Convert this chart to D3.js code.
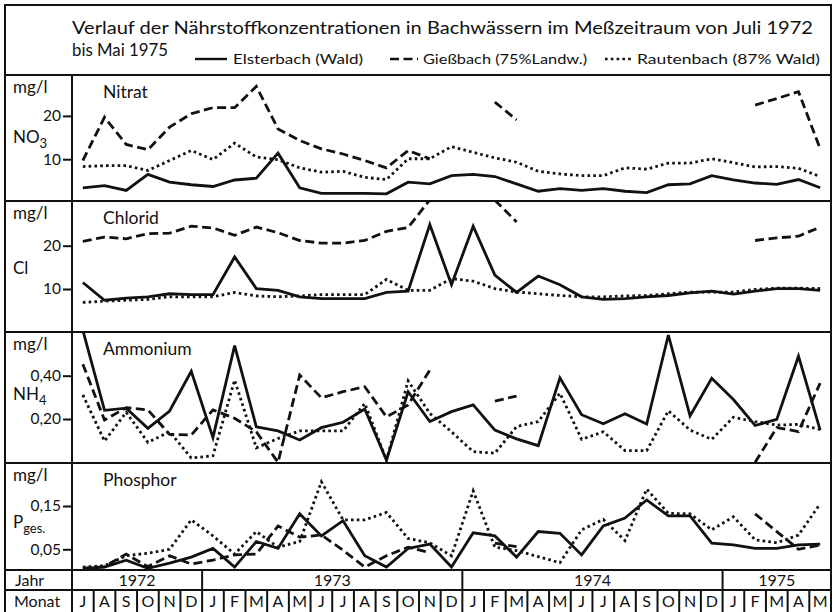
<!DOCTYPE html>
<html>
<head>
<meta charset="utf-8">
<script src="https://cdn.jsdelivr.net/npm/d3@7"></script>
<style>
  body { margin: 0; background: #fff; }
  svg text { font-family: Lato, "DejaVu Sans", sans-serif; fill: #111; }
</style>
</head>
<body>
<div id="chart"></div>
<script>
// months July 1972 .. May 1975
var monthLabels = ["J","A","S","O","N","D",
  "J","F","M","A","M","J","J","A","S","O","N","D",
  "J","F","M","A","M","J","J","A","S","O","N","D",
  "J","F","M","A","M"];
var yearLabels = ["1972", "1973", "1974", "1975"];
var yearStart = [0, 6, 18, 30];   // first month index of each year

// Nitrat NO3 (mg/l)
var nitratElster = [3.4, 3.9, 2.8, 6.5, 4.7, 4.1, 3.7, 5.2, 5.6, 11.4, 3.4, 2.1, 2.1, 2.1, 2.0, 4.7, 4.3, 6.2, 6.5, 6.0, 4.3, 2.6, 3.2, 2.8, 3.2, 2.6, 2.3, 4.1, 4.3, 6.2, 5.2, 4.5, 4.2, 5.3, 3.4];
var nitratGiess = [9.7, 19.7, 13.4, 12.2, 17.4, 20.5, 21.9, 21.9, 26.8, 17.0, 14.3, 12.4, 11.2, 9.7, 8.0, 12.0, 10.1, null, null, 23.2, 19.1, null, null, null, null, null, null, null, null, null, null, 22.5, 24.0, 25.6, 12.4];
var nitratRauten = [8.3, 8.5, 8.5, 7.4, 9.7, 12.0, 9.9, 13.7, 10.5, 9.9, 8.0, 7.0, 7.2, 5.8, 5.3, 10.1, 10.1, 12.9, 11.6, 10.3, 9.3, 7.2, 6.6, 6.2, 6.2, 8.0, 7.7, 9.1, 9.1, 10.1, 9.2, 8.2, 8.3, 7.9, 6.0];

// Chlorid Cl (mg/l)
var chloridElster = [11.5, 7.4, 7.9, 8.2, 8.9, 8.7, 8.7, 17.4, 10.1, 9.7, 8.2, 7.8, 7.8, 7.8, 9.2, 9.5, 24.9, 11.0, 24.5, 13.2, 9.2, 13.0, 11.0, 8.2, 7.6, 7.8, 8.2, 8.5, 9.1, 9.5, 8.8, 9.5, 10.1, 10.1, 9.7];
var chloridGiess = [21.0, 22.0, 21.6, 22.8, 22.9, 24.5, 24.1, 22.4, 24.3, 23.0, 21.2, 20.6, 20.6, 21.2, 23.3, 24.2, 30.6, null, null, 30.5, 25.5, null, null, null, null, null, null, null, null, null, null, 21.2, 21.8, 22.2, 24.3];
var chloridRauten = [6.9, 7.2, 7.4, 7.6, 8.2, 8.2, 8.2, 9.2, 8.4, 8.2, 8.4, 8.7, 8.7, 8.7, 12.2, 9.7, 9.7, 12.4, 11.8, 10.1, 9.3, 8.9, 8.5, 8.2, 8.2, 8.4, 8.5, 8.9, 9.3, 9.3, 9.3, 9.9, 10.2, 10.2, 10.1];

// Ammonium NH4 (mg/l)
var ammonElster = [0.61, 0.24, 0.25, 0.157, 0.237, 0.42, 0.114, 0.539, 0.164, 0.145, 0.103, 0.16, 0.185, 0.246, 0.01, 0.326, 0.188, 0.234, 0.265, 0.149, 0.108, 0.077, 0.39, 0.22, 0.178, 0.224, 0.177, 0.588, 0.214, 0.388, 0.29, 0.17, 0.198, 0.49, 0.149];
var ammonGiess = [0.453, 0.195, 0.252, 0.242, 0.129, 0.126, 0.242, 0.203, 0.141, 0.0, 0.403, 0.298, 0.326, 0.349, 0.21, 0.265, 0.426, null, null, 0.283, 0.306, null, null, null, null, null, null, null, null, null, null, 0.0, 0.16, 0.142, 0.366];
var ammonRauten = [0.311, 0.098, 0.231, 0.092, 0.141, 0.02, 0.03, 0.38, 0.067, 0.11, 0.145, 0.145, 0.145, 0.272, 0.01, 0.376, 0.226, 0.141, 0.049, 0.042, 0.165, 0.188, 0.319, 0.106, 0.141, 0.054, 0.054, 0.238, 0.149, 0.106, 0.208, 0.188, 0.172, 0.175, 0.152];

// Phosphor P ges. (mg/l)
var phosElster = [0.006, 0.009, 0.025, 0.006, 0.018, 0.032, 0.052, 0.009, 0.068, 0.052, 0.132, 0.081, 0.116, 0.035, 0.009, 0.052, 0.062, 0.009, 0.088, 0.081, 0.032, 0.091, 0.087, 0.037, 0.104, 0.122, 0.164, 0.127, 0.127, 0.064, 0.06, 0.052, 0.052, 0.06, 0.062];
var phosGiess = [0.006, 0.01, 0.039, 0.01, 0.035, 0.016, 0.025, 0.037, 0.039, 0.104, 0.078, 0.083, 0.048, 0.009, 0.035, 0.055, 0.042, null, null, 0.064, 0.056, null, null, null, null, null, null, null, null, null, null, 0.132, 0.091, 0.05, 0.06];
var phosRauten = [0.009, 0.012, 0.035, 0.041, 0.05, 0.118, 0.081, 0.039, 0.091, 0.055, 0.068, 0.206, 0.118, 0.118, 0.135, 0.075, 0.065, 0.035, 0.185, 0.055, 0.047, 0.033, 0.019, 0.095, 0.119, 0.07, 0.189, 0.133, 0.132, 0.095, 0.125, 0.072, 0.065, 0.083, 0.155];

var svgWidth = 836;
var svgHeight = 612;

// frame geometry
var frameLeft = 5, frameRight = 831, frameTop = 5;
var colX = 72;      // divider between label column and plot
var titleBottom = 75;

var svg = d3.select("#chart")
  .append("svg")
  .attr("width", svgWidth)
  .attr("height", svgHeight);

var ink = "#111";

var x = d3.scaleBand()
  .domain(d3.range(monthLabels.length))
  .range([colX, frameRight])
  .paddingInner(0);

function xc(i) { return x(i) + x.bandwidth() / 2; }

var de = d3.formatLocale({decimal: ",", thousands: ".", grouping: [3], currency: ["", ""]});

// panels: top, bottom, y-scale anchors, ticks
var panels = [
  {name: "Nitrat", top: titleBottom, bottom: 201,
   y: d3.scaleLinear().domain([10, 20]).range([159.2, 115.9]),
   ticks: [10, 20], fmt: d3.format("d"),
   series: [nitratElster, nitratGiess, nitratRauten],
   species: ["NO", "3"], speciesY: 143},
  {name: "Chlorid", top: 201, bottom: 332,
   y: d3.scaleLinear().domain([10, 20]).range([289, 245.7]),
   ticks: [10, 20], fmt: d3.format("d"),
   series: [chloridElster, chloridGiess, chloridRauten],
   species: ["Cl", ""], speciesY: 274},
  {name: "Ammonium", top: 332, bottom: 463,
   y: d3.scaleLinear().domain([0.2, 0.4]).range([419, 375.7]),
   ticks: [0.2, 0.4], fmt: de.format(".2f"),
   series: [ammonElster, ammonGiess, ammonRauten],
   species: ["NH", "4"], speciesY: 400},
  {name: "Phosphor", top: 463, bottom: 570,
   y: d3.scaleLinear().domain([0.05, 0.15]).range([549.3, 506]),
   ticks: [0.05, 0.15], fmt: de.format(".2f"),
   series: [phosElster, phosGiess, phosRauten],
   species: ["P", "ges."], speciesY: 528}
];

// Elsterbach solid, Gießbach dashed, Rautenbach dotted
var styles = [
  {dash: null},
  {dash: "9,4.5"},
  {dash: "2.6,3.2"}
];

var defs = svg.append("defs");

panels.forEach(function(p, k) {
  defs.append("clipPath")
    .attr("id", "clip" + k)
    .append("rect")
    .attr("x", colX)
    .attr("y", p.top)
    .attr("width", frameRight - colX)
    .attr("height", p.bottom - p.top);

  var g = svg.append("g");

  // y axis ticks on the column divider
  var axis = d3.axisLeft(p.y)
    .tickValues(p.ticks)
    .tickFormat(p.fmt)
    .tickSize(9)
    .tickSizeOuter(0)
    .tickPadding(2);

  var ag = g.append("g")
    .attr("transform", "translate(" + colX + ",0)")
    .call(axis);
  ag.select(".domain").remove();
  ag.selectAll("line").attr("stroke", ink).attr("stroke-width", 2);
  ag.selectAll("text")
    .attr("font-size", 15.5)
    .attr("font-family", "Lato, sans-serif")
    .attr("fill", ink);

  g.append("text")
    .attr("x", 13)
    .attr("y", p.top + 18)
    .attr("font-size", 17)
    .text("mg/l");

  g.append("text")
    .attr("x", 103)
    .attr("y", p.top + 23)
    .attr("font-size", 17.5)
    .text(p.name);

  var sp = g.append("text")
    .attr("x", 13)
    .attr("y", p.speciesY)
    .attr("font-size", 17)
    .text(p.species[0]);
  if (p.species[1]) {
    sp.append("tspan")
      .attr("dy", 5)
      .attr("font-size", 13)
      .text(p.species[1]);
  }

  var plot = g.append("g").attr("clip-path", "url(#clip" + k + ")");

  p.series.forEach(function(vals, s) {
    var line = d3.line()
      .defined(function(d) { return d != null; })
      .x(function(d, i) { return xc(i); })
      .y(function(d) { return p.y(d); });

    plot.append("path")
      .datum(vals)
      .attr("fill", "none")
      .attr("stroke", ink)
      .attr("stroke-width", 2.8)
      .attr("stroke-linejoin", "miter")
      .attr("stroke-dasharray", styles[s].dash)
      .attr("d", line);
  });
});

// frame lines
var frame = svg.append("g")
  .attr("stroke", ink)
  .attr("stroke-width", 2)
  .attr("fill", "none");

frame.append("rect")
  .attr("x", frameLeft)
  .attr("y", frameTop)
  .attr("width", frameRight - frameLeft)
  .attr("height", svgHeight + 10);

[titleBottom, 201, 332, 463, 570, 590].forEach(function(yy) {
  frame.append("line")
    .attr("x1", frameLeft).attr("x2", frameRight)
    .attr("y1", yy).attr("y2", yy);
});

frame.append("line")
  .attr("x1", colX).attr("x2", colX)
  .attr("y1", titleBottom).attr("y2", svgHeight);

// year row
yearStart.forEach(function(start, j) {
  var end = j + 1 < yearStart.length ? yearStart[j + 1] : monthLabels.length;
  var x0 = x(start);
  var x1 = end < monthLabels.length ? x(end) : frameRight;
  if (j > 0) {
    frame.append("line")
      .attr("x1", x0).attr("x2", x0)
      .attr("y1", 570).attr("y2", 590);
  }
  svg.append("text")
    .attr("x", (x0 + x1) / 2)
    .attr("y", 586)
    .attr("text-anchor", "middle")
    .attr("font-size", 16)
    .text(yearLabels[j]);
});

// month row
monthLabels.forEach(function(m, i) {
  if (i > 0) {
    frame.append("line")
      .attr("x1", x(i)).attr("x2", x(i))
      .attr("y1", 590).attr("y2", svgHeight);
  }
  svg.append("text")
    .attr("x", xc(i))
    .attr("y", 607)
    .attr("text-anchor", "middle")
    .attr("font-size", 16)
    .text(m);
});

svg.append("text").attr("x", 15).attr("y", 586).attr("font-size", 16).text("Jahr");
svg.append("text").attr("x", 14).attr("y", 607).attr("font-size", 16).text("Monat");

// title
svg.append("text")
  .attr("x", 72)
  .attr("y", 33.5)
  .attr("font-size", 18)
  .attr("textLength", 741)
  .attr("lengthAdjust", "spacingAndGlyphs")
  .text("Verlauf der Nährstoffkonzentrationen in Bachwässern im Meßzeitraum von Juli 1972");

svg.append("text")
  .attr("x", 72)
  .attr("y", 55.5)
  .attr("font-size", 18)
  .attr("textLength", 96)
  .attr("lengthAdjust", "spacingAndGlyphs")
  .text("bis Mai 1975");

// legend
var legendItems = [
  {label: "Elsterbach (Wald)", x0: 195, x1: 227, tx: 233, tw: 130},
  {label: "Gießbach (75%Landw.)", x0: 390, x1: 418, tx: 423, tw: 164},
  {label: "Rautenbach (87% Wald)", x0: 605, x1: 632, tx: 637, tw: 183}
];

legendItems.forEach(function(d, s) {
  svg.append("line")
    .attr("x1", d.x0).attr("x2", d.x1)
    .attr("y1", 59).attr("y2", 59)
    .attr("stroke", ink)
    .attr("stroke-width", 2.4)
    .attr("stroke-dasharray", styles[s].dash);
  svg.append("text")
    .attr("x", d.tx)
    .attr("y", 64)
    .attr("font-size", 14)
    .attr("textLength", d.tw)
    .attr("lengthAdjust", "spacingAndGlyphs")
    .text(d.label);
});
</script>
</body>
</html>
